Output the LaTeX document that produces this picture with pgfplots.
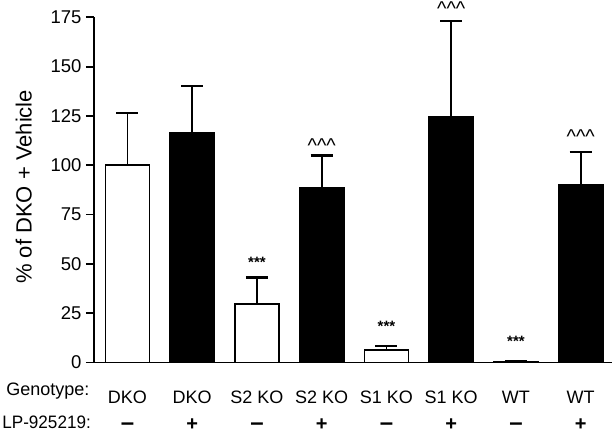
\documentclass[border=0pt]{standalone}
\usepackage{graphicx}
\usepackage{pgfplots}
\pgfplotsset{compat=1.18}
\usepackage{fontspec}
\setmainfont{Liberation Sans}
\begin{document}
\begin{tikzpicture}
\useasboundingbox (-94pt,-72.5pt) rectangle (520pt,362.5pt);
\begin{axis}[
  scale only axis,
  width=518pt, height=345.2pt,
  xmin=-0.517, xmax=7.483,
  ymin=0, ymax=175,
  clip=false,
  axis x line*=bottom,
  axis y line*=left,
  axis line style={line width=1.8pt},
  ytick={0,25,50,75,100,125,150,175},
  tick align=outside,
  major tick length=8pt,
  ytick style={line width=1.8pt, black},
  xtick={0,1,2,3,4,5,6,7},
  xticklabels={DKO,DKO,S2 KO,S2 KO,S1 KO,S1 KO,WT,WT},
  xtick style={draw=none},
  xticklabel style={anchor=base, yshift=-33.5pt, font=\fontsize{18}{20}\selectfont},
  /pgf/number format/assume math mode=true,
  yticklabel style={font=\fontsize{18.5}{20}\selectfont, xshift=-1pt},
  ylabel={\% of DKO + Vehicle},
  ylabel style={font=\fontsize{22}{24}\selectfont, yshift=12pt, xshift=3pt},
  error bars/y dir=plus,
  error bars/y explicit,
  error bars/error mark=-,
  error bars/error bar style={line width=1.6pt, black},
  error bars/error mark options={rotate=90, line width=2.4pt, mark size=11pt, black},
]
\addplot[ybar, bar width=44pt, bar shift=0pt, fill=white, draw=black, line width=1.8pt]
  coordinates {(0,100) +- (0,26.6) (2,29.6) +- (0,13.4) (4,6.3) +- (0,2.2) (6,0.5) +- (0,0.4)};
\addplot[ybar, bar width=44pt, bar shift=0pt, fill=black, draw=black, line width=1.8pt]
  coordinates {(1,116.2) +- (0,23.9) (3,88.3) +- (0,16.7) (5,124.3) +- (0,48.9) (7,90.0) +- (0,16.7)};
% significance markers
\addplot[draw=none, mark=none, nodes near coords, point meta=explicit symbolic,
  nodes near coords style={anchor=center, font=\fontsize{15}{17}\selectfont\bfseries}]
  coordinates {(2,51)[***] (4,18.2)[***] (6,10.9)[***]};
\addplot[draw=none, mark=none, nodes near coords, point meta=explicit symbolic,
  nodes near coords style={anchor=base, inner sep=0pt, font=\fontsize{20}{22}\selectfont}]
  coordinates {(3,106.7)[\textasciicircum\textasciicircum\textasciicircum] (5,176)[\textasciicircum\textasciicircum\textasciicircum] (7,111.1)[\textasciicircum\textasciicircum\textasciicircum]};
% treatment row
\addplot[draw=none, mark=none, nodes near coords, point meta=explicit symbolic,
  nodes near coords style={anchor=base, font=\fontsize{20}{22}\selectfont\bfseries}]
  coordinates {(0,-34.5)[{\fontsize{24}{26}\selectfont --}] (1,-34.5)[+] (2,-34.5)[{\fontsize{24}{26}\selectfont --}] (3,-34.5)[+] (4,-34.5)[{\fontsize{24}{26}\selectfont --}] (5,-34.5)[+] (6,-34.5)[{\fontsize{24}{26}\selectfont --}] (7,-34.5)[+]};
\node[anchor=base east, font=\fontsize{18}{20}\selectfont] at (rel axis cs:0,0) [xshift=-1pt, yshift=-33.5pt] {Genotype:};
\node[anchor=base east, inner sep=1pt, font=\fontsize{18}{20}\selectfont] at (rel axis cs:0,0) [xshift=-2pt, yshift=-66pt] {\scalebox{0.95}[1]{LP-925219:}};
\end{axis}
\end{tikzpicture}
\end{document}
